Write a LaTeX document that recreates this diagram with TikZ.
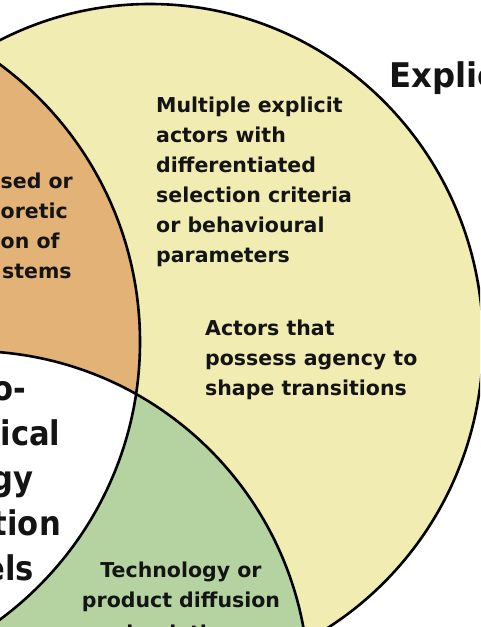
\documentclass[tikz,border=0pt]{standalone}
\usepackage{fontspec}
\newfontfamily\lblfont{DejaVu Sans}
\newfontfamily\bigfont{DejaVu Sans}[FakeStretch=0.9]
\newfontfamily\titlefont{DejaVu Sans}[FakeStretch=0.95]
\definecolor{yellowc}{HTML}{F0ECB2}
\definecolor{orangec}{HTML}{E2B276}
\definecolor{greenc}{HTML}{B5D3A0}
\definecolor{inkc}{HTML}{141414}
\tikzset{
  outline/.style={draw=black, line width=2.6pt},
  body/.style={inner sep=0pt, text=inkc, font=\lblfont\bfseries\fontsize{20.5}{30}\selectfont},
  big/.style={inner sep=0pt, text=inkc, font=\bigfont\bfseries\fontsize{34}{45}\selectfont},
  titletext/.style={inner sep=0pt, text=inkc, font=\titlefont\bfseries\fontsize{34}{45}\selectfont}
}
\begin{document}
\begin{tikzpicture}[x=1pt,y=-1pt]
\useasboundingbox (0,0) rectangle (480,627);
\clip (0,0) rectangle (480,627);
\fill[yellowc] (150,342) ellipse [x radius=333pt, y radius=338pt];
\fill[orangec] (-205,342) circle [radius=345pt];
\fill[greenc] (-29,689) circle [radius=338pt];
\begin{scope}
  \clip (-205,342) circle [radius=345pt];
  \fill[white] (-29,689) circle [radius=338pt];
\end{scope}
\draw[outline] (150,342) ellipse [x radius=333pt, y radius=338pt];
\draw[outline] (-205,342) circle [radius=345pt];
\draw[outline] (-29,689) circle [radius=338pt];
% title fragment
\node[titletext, anchor=base west] (title) at (389,87) {Explic};
% yellow texts
\foreach \t [count=\i] in {Multiple explicit, actors with, differentiated, selection criteria, or behavioural, parameters}
  \node[body, anchor=base west] (mult\i) at (156,82+30*\i) {\t};
\foreach \t [count=\i] in {Actors that, possess agency to, shape transitions}
  \node[body, anchor=base west] (agency\i) at (205,305+30*\i) {\t};
% orange fragments
\node[body, anchor=base west] (or1) at (0.5,188) {sed or};
\node[body, anchor=base west] (or2) at (0.5,218) {oretic};
\node[body, anchor=base west] (or3) at (0.5,248) {on of};
\node[body, anchor=base west] (or4) at (2,278) {stems};
% white fragments
\node[big, anchor=base east] (w1) at (26,400) {o-};
\node[big, anchor=base west] (w2) at (0.5,445) {ical};
\node[big, anchor=base east] (w3) at (34,490) {gy};
\node[big, anchor=base east] (w4) at (61,535) {tion};
\node[big, anchor=base east] (w5) at (34,580) {els};
% green texts
\node[body, anchor=base] (g1) at (181,577) {Technology or};
\node[body, anchor=base] (g2) at (181,607) {product diffusion};
\node[body, anchor=base] (g3) at (181,640) {simulations};
\end{tikzpicture}
\end{document}
